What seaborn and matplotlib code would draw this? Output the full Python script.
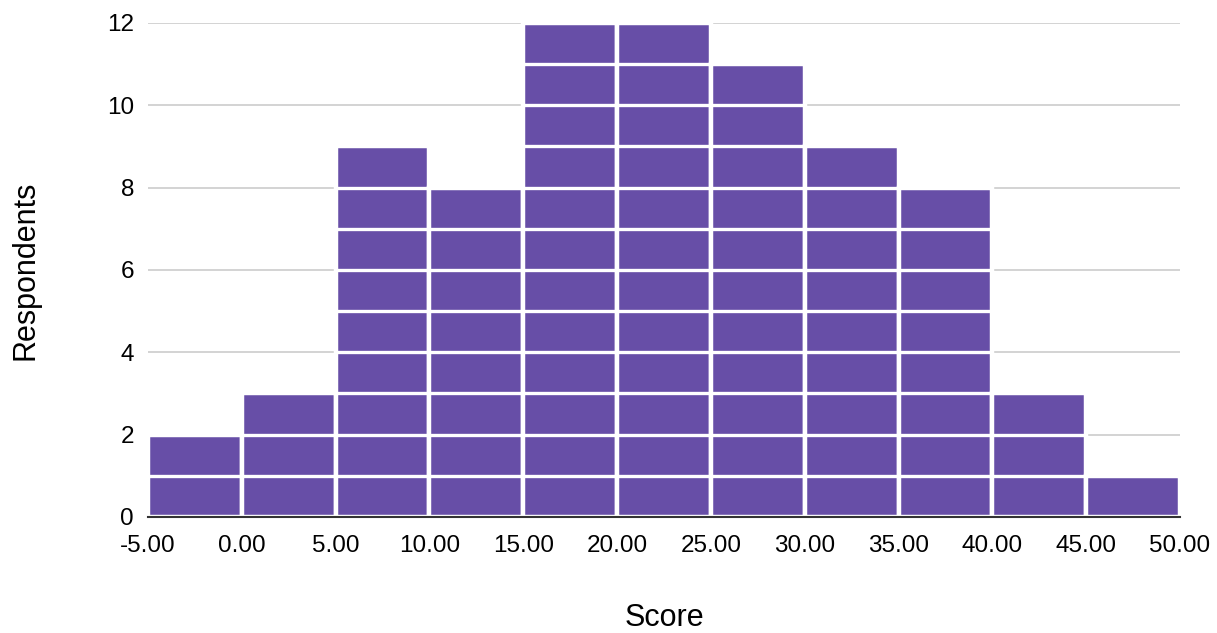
import numpy as np
import matplotlib
matplotlib.use("Agg")
import matplotlib.pyplot as plt
import seaborn as sns

# histogram bins (Score) and respondent counts per bin
bin_edges = [-5, 0, 5, 10, 15, 20, 25, 30, 35, 40, 45, 50]
counts = [2, 3, 9, 8, 12, 12, 11, 9, 8, 3, 1]
tick_labels = ["-5.00", "0.00", "5.00", "10.00", "15.00", "20.00", "25.00",
               "30.00", "35.00", "40.00", "45.00", "50.00"]

purple = "#674ea7"

sns.set_theme(style="white")
plt.rcParams["font.family"] = ["Liberation Sans", "DejaVu Sans"]

fig = plt.figure(figsize=(12.17, 6.33), dpi=100)
ax = fig.add_axes([0.1216, 0.1833, 0.848, 0.7804])

mids = [(a + b) / 2 for a, b in zip(bin_edges[:-1], bin_edges[1:])]
sns.histplot(x=mids, weights=counts, bins=bin_edges, color=purple, alpha=1,
             edgecolor="white", linewidth=3.2, ax=ax, zorder=2)

# unit separators inside each bar
for a, b, c in zip(bin_edges[:-1], bin_edges[1:], counts):
    for k in range(1, c):
        ax.hlines(k, a, b, color="white", linewidth=2.4, zorder=3)

ax.set_xlim(-5, 50)
ax.set_ylim(0, 12)
ax.set_yticks(range(0, 13, 2))
ax.set_xticks(bin_edges)
ax.set_xticklabels(tick_labels)
ax.yaxis.grid(True, color="#cccccc", linewidth=1.2, zorder=0)
ax.set_axisbelow(True)
for s in ["top", "right", "left"]:
    ax.spines[s].set_visible(False)
ax.spines["bottom"].set_color("#333333")
ax.spines["bottom"].set_linewidth(1.5)
ax.spines["bottom"].set_zorder(4)
ax.tick_params(axis="both", labelsize=17.5, colors="black", length=0)
ax.tick_params(axis="x", pad=13)
ax.tick_params(axis="y", pad=10)
ax.set_xlabel("Score", fontsize=22, labelpad=33, color="black")
ax.set_ylabel("Respondents", fontsize=22, labelpad=48, color="black")

fig.savefig("out.png", dpi=100)
